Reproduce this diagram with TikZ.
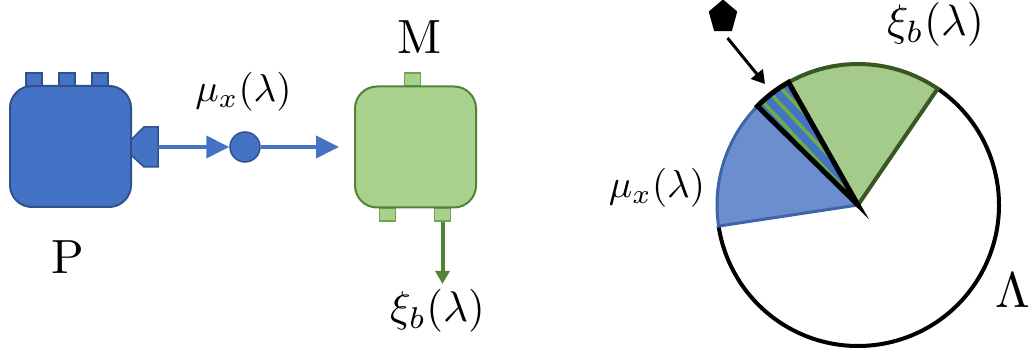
\documentclass[tikz,border=0pt]{standalone}
\usepackage{tikz}
\usetikzlibrary{arrows.meta,positioning,shapes}
\definecolor{pblue}{HTML}{4472C4}
\definecolor{pedge}{HTML}{2F528F}
\definecolor{mgreen}{HTML}{A9D18E}
\definecolor{medge}{HTML}{548235}
\definecolor{tabedge}{HTML}{6FA550}
\definecolor{sblue}{HTML}{6A8ECE}
\definecolor{sedge}{HTML}{3D65A8}
\definecolor{sgreen}{HTML}{A5CB8C}
\definecolor{gedge}{HTML}{385723}
\definecolor{stripe}{HTML}{70AD47}
\tikzset{
  body/.style={draw,rounded corners=22pt,minimum size=121pt,inner sep=0pt,line width=2pt},
  tabbox/.style={draw,rectangle,minimum width=16pt,minimum height=13pt,inner sep=0pt,line width=1.5pt},
  lab/.style={inner sep=0pt},
  flow/.style={-{Triangle[length=23pt,width=22pt]},line width=4pt,pblue},
}
\begin{document}
\begin{tikzpicture}[x=1pt,y=1pt]
\useasboundingbox (0,0) rectangle (1029,348);
% pump side
\foreach \i/\x in {1/34,2/67,3/100}
  \node[tabbox,fill=pblue,draw=pedge] (ptab\i) at (\x,268.5) {};
\node[body,fill=pblue,draw=pedge] (P) at (70.5,201.5) {};
\draw[fill=pblue,draw=pedge,line width=1.5pt] (131,208) -- (144,221) -- (158,221) -- (158,181) -- (144,181) -- (131,193) -- cycle;
\coordinate (noz) at (158,201);
\node[draw=pedge,fill=pblue,circle,minimum size=30pt,inner sep=0pt,line width=1.5pt] (junc) at (245,201) {};
\coordinate (mend) at (339,201);
\draw[flow] (noz) -- (junc);
\draw[flow] (junc) -- (mend);
% module side
\node[tabbox,fill=mgreen,draw=tabedge] (mtab1) at (412.5,268.5) {};
\node[tabbox,fill=mgreen,draw=tabedge] (mtab2) at (387.5,133.5) {};
\node[tabbox,fill=mgreen,draw=tabedge] (mtab3) at (442.5,133.5) {};
\node[body,fill=mgreen,draw=medge] (M) at (415.5,201) {};
\coordinate (bend) at (442.5,64);
\draw[-{Triangle[length=13pt,width=14pt]},line width=4pt,medge] (mtab3) -- (bend);
% labels
\node[lab,scale=4.8] (plab) at (68,91) {P};
\node[lab,scale=4.8] (mlab) at (420,311) {M};
\node[lab,scale=3.9] (mulab) at (243.5,256) {$\mu_x(\lambda)$};
\node[lab,scale=4.3] (xilab) at (437.5,37) {$\xi_b(\lambda)$};
\node[lab,scale=4.4] (xitop) at (935.5,323) {$\xi_b(\lambda)$};
\node[lab,scale=3.9] (murt) at (657,160) {$\mu_x(\lambda)$};
\node[lab,scale=5] (lamlab) at (1013,58) {$\Lambda$};
% pie
\coordinate (pc) at (858,143);
\draw[line width=4pt] (pc) ++(55.6:141) arc[start angle=55.6,end angle=-171.4,radius=141];
\fill[sblue] (pc) -- ++(135.5:141) arc[start angle=135.5,end angle=188.6,radius=141] -- cycle;
\draw[sedge,line width=3pt] (pc) ++(135.5:141) arc[start angle=135.5,end angle=188.6,radius=141] -- (pc);
\fill[sgreen] (pc) -- ++(55.6:141) arc[start angle=55.6,end angle=119.5,radius=141] -- cycle;
\draw[gedge,line width=4pt] (pc) -- ++(55.6:141) arc[start angle=55.6,end angle=119.5,radius=141];
\begin{scope}
\clip (pc) -- ++(119.5:141) arc[start angle=119.5,end angle=135.5,radius=141] -- cycle;
\fill[pblue] (pc) circle (141);
\foreach \d in {0,8,16}
  \draw[stripe,line width=3.5pt] (763+\d,246+\d) -- ++(-47:130);
\end{scope}
\draw[line width=5pt] (pc) -- ++(119.5:141) arc[start angle=119.5,end angle=135.5,radius=141] -- cycle;
% pointer
\node[regular polygon,regular polygon sides=5,fill=black,minimum size=30pt,inner sep=0pt,yscale=1.17] (penta) at (723,331) {};
\coordinate (ps) at (727.5,310);
\coordinate (pt) at (765,264);
\draw[-{Triangle[length=13pt,width=15pt]},line width=3pt] (ps) -- (pt);
\end{tikzpicture}
\end{document}
